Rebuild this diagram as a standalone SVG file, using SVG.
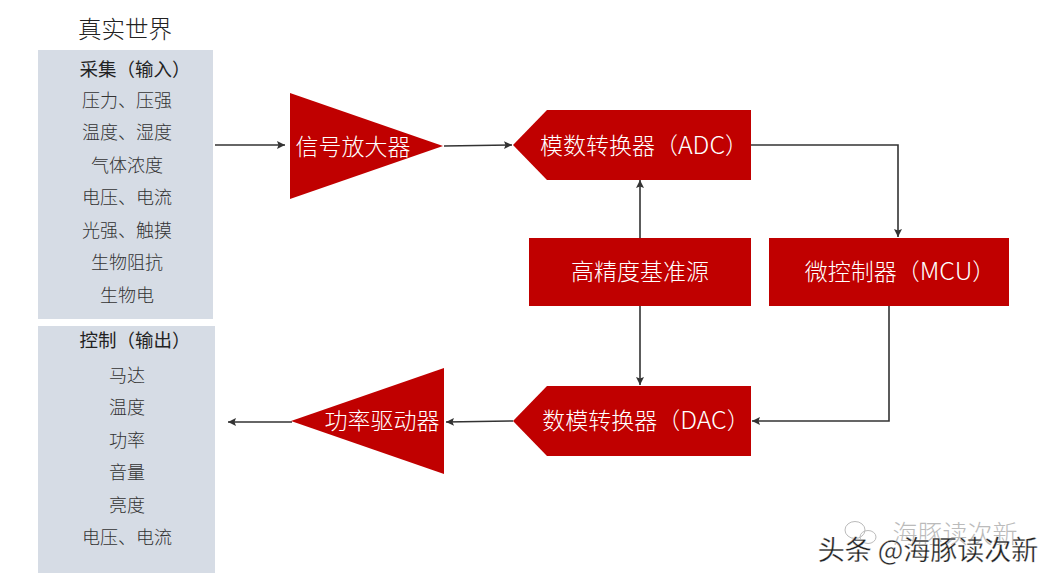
<svg xmlns="http://www.w3.org/2000/svg" width="1054" height="582" viewBox="0 0 1054 582">
<style>
text{font-family:"Noto Sans CJK SC","Liberation Sans",sans-serif;text-anchor:middle}
.red{fill:#c00000}
.panel{fill:#d6dce5}
.w{fill:#fff;font-size:23px;font-weight:300}
.e{font-size:25px}
.l{fill:#333;font-size:18px;font-weight:300}
.h{fill:#222;font-size:18.5px;font-weight:400}
.c{fill:none;stroke:#333;stroke-width:1.6;marker-end:url(#a)}
.i{fill:none;stroke:#bbb;stroke-width:1}
</style>
<defs><marker id="a" markerUnits="userSpaceOnUse" markerWidth="9" markerHeight="9" refX="8" refY="4" orient="auto"><path d="M0 0L8 4L0 8L1.5 4Z" fill="#333"/></marker></defs>
<rect width="1054" height="582" fill="#fff"/>
<g id="connectors">
<path class="c" d="M215 145H285"/>
<path class="c" d="M444 146L512 145"/>
<path class="c" d="M751 145H898V237"/>
<path class="c" d="M640 238V180"/>
<path class="c" d="M640 306V385"/>
<path class="c" d="M889 306V421H752"/>
<path class="c" d="M513 421L446 422"/>
<path class="c" d="M292 422H228"/>
</g>
<g id="title"><text x="125" y="38" fill="#222" font-weight="300" style="font-size:23.5px">真实世界</text></g>
<g id="input-panel">
<rect class="panel" x="38" y="50" width="175" height="269"/>
<text class="h" x="135" y="76">采集（输入）</text>
<text class="l" x="127" y="107">压力、压强</text>
<text class="l" x="127" y="139">温度、湿度</text>
<text class="l" x="127" y="172">气体浓度</text>
<text class="l" x="127" y="204">电压、电流</text>
<text class="l" x="127" y="237">光强、触摸</text>
<text class="l" x="127" y="269">生物阻抗</text>
<text class="l" x="127" y="302">生物电</text>
</g>
<g id="output-panel">
<rect class="panel" x="38" y="326" width="177" height="247"/>
<text class="h" x="135" y="347">控制（输出）</text>
<text class="l" x="127" y="382">马达</text>
<text class="l" x="127" y="414">温度</text>
<text class="l" x="127" y="447">功率</text>
<text class="l" x="127" y="479">音量</text>
<text class="l" x="127" y="512">亮度</text>
<text class="l" x="127" y="544">电压、电流</text>
</g>
<g id="amp"><path class="red" d="M290 93L443 146L290 199Z"/><text class="w" x="353" y="155">信号放大器</text></g>
<g id="adc"><path class="red" d="M547 110H751V180H547L513 145Z"/><text class="w" x="644" y="154">模数转换器（<tspan class="e">ADC</tspan>）</text></g>
<g id="ref"><rect class="red" x="529" y="238" width="222" height="68"/><text class="w" x="640" y="280">高精度基准源</text></g>
<g id="mcu"><rect class="red" x="769" y="238" width="240" height="68"/><text class="w" x="900" y="280">微控制器（<tspan class="e">MCU</tspan>）</text></g>
<g id="dac"><path class="red" d="M547 386H751V456H547L513 421Z"/><text class="w" x="646" y="429">数模转换器（<tspan class="e">DAC</tspan>）</text></g>
<g id="driver"><path class="red" d="M444 368V474L291 421Z"/><text class="w" x="382" y="429">功率驱动器</text></g>
<g id="watermark">
<ellipse class="i" cx="855" cy="530" rx="10" ry="8.5"/>
<ellipse class="i" cx="868" cy="537" rx="8" ry="6.5"/>
<text x="955" y="543" fill="#bbb" font-weight="300" style="font-size:25px">海豚读次新</text>
<text x="928" y="560" fill="#222" stroke="#fff" stroke-width="0.3" style="font-size:27px">头条 @海豚读次新</text>
</g>
</svg>
